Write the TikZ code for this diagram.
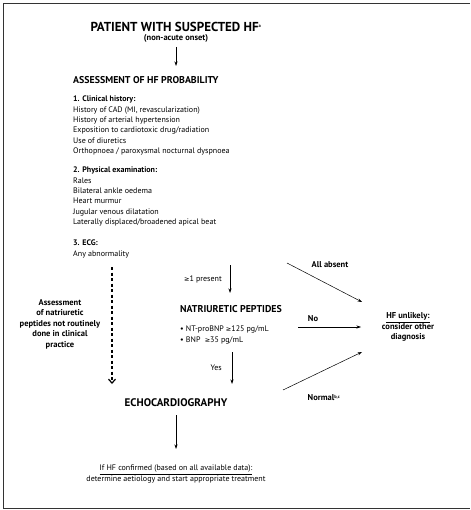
\documentclass[tikz,border=0pt]{standalone}
\usepackage{fontspec}
\setmainfont{PT Sans}
\newfontfamily\symfont{DejaVu Sans}
\newcommand{\geqsym}{{\symfont\fontsize{6.5}{8}\selectfont ≥}}
\newcommand{\tinysup}[1]{\textsuperscript{\fontsize{4.5}{5}\selectfont #1}}
\usetikzlibrary{arrows.meta}

\begin{document}
\begin{tikzpicture}[x=1pt,y=-1pt,font=\fontsize{8}{10.3}\selectfont]
      \tikzstyle{every node}+=[inner sep=0pt]
      \tikzstyle{flow}=[-{Stealth[length=4.5pt,width=3pt]},line width=0.5pt]
      \tikzstyle{bigcaps}=[font=\fontsize{13}{15}\selectfont\bfseries]
      \tikzstyle{smallcaps}=[font=\fontsize{9.9}{11}\selectfont\bfseries]
      \tikzstyle{bold}=[font=\fontsize{8.5}{10.5}\selectfont\bfseries]
      \tikzstyle{list}=[anchor=north west, align=left]
      \useasboundingbox (0,0) rectangle (470,510);
      \draw [black!80, line width=0.8pt] (470,3) -- (3,3) -- (3,508) -- (470,508);
      % top of the chart
      \node [bigcaps] (patient) at (176,27) {PATIENT WITH SUSPECTED HF\tinysup{a}};
      \node [bold] (onset) at (176,38.5) {(non-acute onset)};
      \node [smallcaps, anchor=west] (assess) at (73,80) {ASSESSMENT OF HF PROBABILITY};
      \node [list] (history) at (73,96) {\textbf{1. Clinical history:}\\
        History of CAD (MI, revascularization)\\
        History of arterial hypertension\\
        Exposition to cardiotoxic drug/radiation\\
        Use of diuretics\\
        Orthopnoea / paroxysmal nocturnal dyspnoea};
      \node [list] (exam) at (73,167) {\textbf{2. Physical examination:}\\
        Rales\\
        Bilateral ankle oedema\\
        Heart murmur\\
        Jugular venous dilatation\\
        Laterally displaced/broadened apical beat};
      \node [list] (ecg) at (73,240) {\textbf{3. ECG:}\\
        Any abnormality};
      % middle row
      \node [bold, align=center] (routine) at (60,324) {Assessment\\of natriuretic\\peptides not routinely\\done in clinical\\practice};
      \node [smallcaps, anchor=west] (peptides) at (180,309) {NATRIURETIC PEPTIDES};
      \node [list] (values) at (180,326) {\textbullet\ NT-proBNP \geqsym125 pg/mL\\
        \textbullet\ BNP\ \ \geqsym35 pg/mL};
      \node [bold, align=center] (unlikely) at (408,327) {\underline{HF unlikely:}\\consider other\\diagnosis};
      \node [font=\fontsize{11}{13}\selectfont\bfseries] (echo) at (176,403) {ECHOCARDIOGRAPHY};
      \node [align=center] (confirmed) at (176,474) {\underline{If HF confirmed (based on all available data):}\\
        determine aetiology and start appropriate treatment};
      % free ends of the arrows
      \coordinate (p1) at (176,47);
      \coordinate (p2) at (176,66);
      \coordinate (d1) at (112,267);
      \coordinate (d2) at (112,384);
      \coordinate (a1) at (230,265);
      \coordinate (a2) at (230,293);
      \coordinate (b1) at (287,263);
      \coordinate (b2) at (362,302);
      \coordinate (n1) at (298,327);
      \coordinate (n2) at (361,327);
      \coordinate (y1) at (232,352);
      \coordinate (y2) at (232,384);
      \coordinate (m1) at (283,390);
      \coordinate (m2) at (362,352);
      \coordinate (e1) at (176,415);
      \coordinate (e2) at (176,449);
      % arrows
      \draw [flow] (p1) -- (p2);
      \draw [flow] (a1) -- (a2) node [midway, left=8pt] {\geqsym1 present};
      \draw [flow] (b1) -- (b2);
      \node [bold] (absent) at (330,265) {All absent};
      \draw [flow] (n1) -- (n2);
      \node [bold] (no) at (313,319) {No};
      \draw [flow] (y1) -- (y2) node [midway, left=10pt] {Yes};
      \draw [flow] (m1) -- (m2);
      \node [bold] (normal) at (324,398) {Normal\tinysup{b,c}};
      \draw [flow] (e1) -- (e2);
      \draw [dashed, line width=1.2pt, dash pattern=on 3pt off 2.5pt, -{Straight Barb[length=4pt,width=7pt]}] (d1) -- (d2);
\end{tikzpicture}
\end{document}
